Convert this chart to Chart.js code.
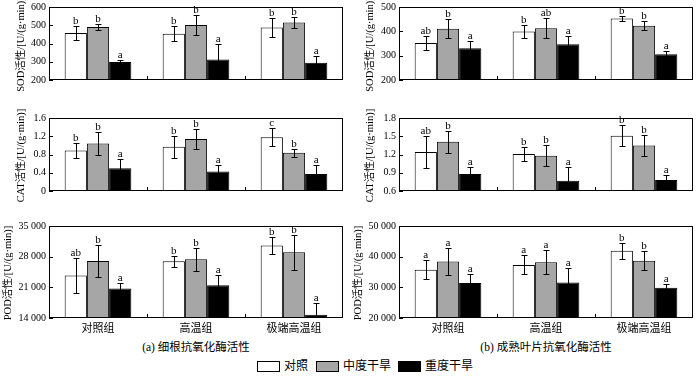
<!DOCTYPE html>
<html>
<head>
<meta charset="utf-8">
<script src="https://cdn.jsdelivr.net/npm/chart.js@4.4.0/dist/chart.umd.min.js"></script>
<style>
  body { margin: 0; width: 700px; height: 376px; position: relative; overflow: hidden; background: #fff;
         font-family: "Liberation Serif", "Noto Sans CJK SC", serif; color: #000; }
  canvas { position: absolute; }
  .cap { position: absolute; top: 338px; font-size: 11.5px; text-align: center; white-space: nowrap; }
  .legend { position: absolute; top: 359px; left: 0; width: 700px; font-size: 12px; }
  .legend span { position: absolute; top: 0; line-height: 14px; white-space: nowrap; }
  .legend i { position: absolute; top: 2px; width: 21px; height: 9px; border: 1px solid #000; }
</style>
</head>
<body>
<div class="cap" style="left:49px;width:294px">(a) 细根抗氧化酶活性</div>
<div class="cap" style="left:399px;width:294px">(b) 成熟叶片抗氧化酶活性</div>
<div class="legend">
  <i style="left:257px;background:#fff"></i><span style="left:284px">对照</span>
  <i style="left:316px;background:#a6a6a6"></i><span style="left:343px">中度干旱</span>
  <i style="left:398px;background:#000"></i><span style="left:425px">重度干旱</span>
</div>
<script>
// Categories and series
const categories = ['对照组', '高温组', '极端高温组'];
const seriesNames = ['对照', '中度干旱', '重度干旱'];

// (a) fine roots -- rows are series (对照, 中度干旱, 重度干旱), columns are groups
const sodRootMean = [[458, 454, 487], [491, 501, 515], [298, 312, 295]];
const sodRootErr = [[37, 40, 53], [18, 56, 28], [10, 84, 37]];
const sodRootSig = [['b', 'b', 'b'], ['b', 'b', 'b'], ['a', 'a', 'a']];
const sodRootTicks = [200, 300, 400, 500, 600];

const catRootMean = [[0.89, 0.97, 1.18], [1.04, 1.14, 0.84], [0.50, 0.43, 0.37]];
const catRootErr = [[0.17, 0.24, 0.20], [0.25, 0.21, 0.09], [0.20, 0.15, 0.21]];
const catRootSig = [['b', 'b', 'c'], ['b', 'b', 'b'], ['a', 'a', 'a']];
const catRootTicks = [0, 0.4, 0.8, 1.2, 1.6];

const podRootMean = [[23700, 26950, 30550], [27000, 27400, 29000], [20750, 21500, 14750]];
const podRootErr = [[3900, 1300, 1900], [3600, 2650, 4000], [1300, 2400, 2600]];
const podRootSig = [['ab', 'b', 'b'], ['b', 'b', 'b'], ['a', 'a', 'a']];
const podRootTicks = [14000, 21000, 28000, 35000];

// (b) mature leaves
const sodLeafMean = [[352, 399, 453], [411, 413, 423], [330, 347, 306]];
const sodLeafErr = [[28, 25, 11], [40, 42, 18], [32, 32, 14]];
const sodLeafSig = [['ab', 'b', 'b'], ['b', 'ab', 'b'], ['a', 'a', 'a']];
const sodLeafTicks = [200, 300, 400, 500];

const catLeafMean = [[1.24, 1.21, 1.51], [1.41, 1.18, 1.35], [0.88, 0.77, 0.78]];
const catLeafErr = [[0.26, 0.11, 0.17], [0.18, 0.17, 0.17], [0.11, 0.22, 0.08]];
const catLeafSig = [['ab', 'b', 'b'], ['b', 'b', 'b'], ['a', 'a', 'a']];
const catLeafTicks = [0.6, 0.9, 1.2, 1.5, 1.8];

const podLeafMean = [[35700, 37300, 41900], [38400, 38200, 38700], [31400, 31600, 29900]];
const podLeafErr = [[3100, 3100, 2600], [4500, 4000, 3000], [3000, 4700, 1100]];
const podLeafSig = [['a', 'a', 'b'], ['a', 'a', 'b'], ['a', 'a', 'a']];
const podLeafTicks = [20000, 30000, 40000, 50000];

const seriesColors = ['#ffffff', '#a6a6a6', '#000000'];
const FONT = '"Liberation Serif", "Noto Sans CJK SC", serif';

const fmtPlain = v => String(v);
const fmtCat = v => (v === 0 ? '0' : v.toFixed(1));
const fmtThousand = v => Math.floor(v / 1000) + ' ' + String(v % 1000).padStart(3, '0');

// error bars, letters, frame, inward ticks and the rotated y title
const decor = {
    id: 'decor',
    afterDatasetsDraw(chart, args, opts) {
        const { ctx, chartArea: a, scales: { x, y } } = chart;
        ctx.save();
        ctx.strokeStyle = '#000';
        ctx.lineWidth = 1;

        ctx.save();
        ctx.beginPath();
        ctx.rect(a.left, a.top, a.right - a.left, a.bottom - a.top);
        ctx.clip();
        chart.data.datasets.forEach((ds, i) => {
            chart.getDatasetMeta(i).data.forEach((bar, j) => {
                const hi = Math.round(y.getPixelForValue(ds.data[j] + ds.err[j])) + 0.5;
                const lo = Math.round(y.getPixelForValue(ds.data[j] - ds.err[j])) + 0.5;
                const bx = Math.round(bar.x) + 0.5;
                ctx.beginPath();
                ctx.moveTo(bx, hi); ctx.lineTo(bx, lo);
                ctx.moveTo(bx - 3, hi); ctx.lineTo(bx + 3, hi);
                ctx.moveTo(bx - 3, lo); ctx.lineTo(bx + 3, lo);
                ctx.stroke();
            });
        });
        ctx.restore();

        ctx.fillStyle = '#000';
        ctx.font = '11px ' + FONT;
        ctx.textAlign = 'center';
        ctx.textBaseline = 'alphabetic';
        chart.data.datasets.forEach((ds, i) => {
            chart.getDatasetMeta(i).data.forEach((bar, j) => {
                const hi = y.getPixelForValue(ds.data[j] + ds.err[j]);
                ctx.fillText(ds.sig[j], bar.x, hi - 2);
            });
        });

        ctx.strokeRect(a.left + 0.5, a.top + 0.5, a.right - a.left - 1, a.bottom - a.top - 1);
        ctx.beginPath();
        y.ticks.forEach(t => {
            const py = Math.round(y.getPixelForValue(t.value)) + 0.5;
            ctx.moveTo(a.left, py); ctx.lineTo(a.left + 4, py);
        });
        for (let k = 1; k < categories.length; k++) {
            const px = Math.round((x.getPixelForValue(k - 1) + x.getPixelForValue(k)) / 2) + 0.5;
            ctx.moveTo(px, a.bottom); ctx.lineTo(px, a.bottom - 4);
        }
        ctx.stroke();

        ctx.font = '10.5px ' + FONT;
        ctx.translate(opts.titleX, (a.top + a.bottom) / 2 + 1);
        ctx.rotate(-Math.PI / 2);
        ctx.textBaseline = 'middle';
        ctx.fillText(opts.title, 0, 0);
        ctx.restore();
    }
};

function makeChart(p) {
    const canvas = document.createElement('canvas');
    canvas.width = p.w;
    canvas.height = p.h;
    canvas.style.left = p.left + 'px';
    canvas.style.top = p.top + 'px';
    canvas.style.width = p.w + 'px';
    canvas.style.height = p.h + 'px';
    document.body.appendChild(canvas);

    new Chart(canvas, {
        type: 'bar',
        data: {
            labels: categories,
            datasets: p.mean.map((m, i) => ({
                label: seriesNames[i],
                data: m,
                err: p.err[i],
                sig: p.sig[i],
                backgroundColor: seriesColors[i],
                borderColor: '#000',
                borderWidth: 1,
                categoryPercentage: 0.68,
                barPercentage: 1
            }))
        },
        options: {
            responsive: false,
            animation: false,
            devicePixelRatio: 1,
            layout: { padding: { top: 8, right: p.padRight, bottom: p.last ? 0 : 8, left: 0 } },
            plugins: {
                legend: { display: false },
                tooltip: { enabled: false },
                decor: { title: p.title, titleX: p.titleX }
            },
            scales: {
                x: {
                    display: p.last,
                    grid: { display: false, drawTicks: false },
                    border: { display: false },
                    ticks: { color: '#000', font: { size: 11, family: FONT }, padding: 5, maxRotation: 0 },
                    afterFit: s => { s.height = 20; }
                },
                y: {
                    min: p.ticks[0],
                    max: p.ticks[p.ticks.length - 1],
                    grid: { display: false, drawTicks: false },
                    border: { display: false },
                    afterBuildTicks: s => { s.ticks = p.ticks.map(v => ({ value: v })); },
                    ticks: { color: '#000', font: { size: 10, family: FONT }, padding: 3, callback: v => p.fmt(v) },
                    afterFit: s => { s.width = 49; }
                }
            }
        },
        plugins: [decor]
    });
}

const panels = [
    { title: 'SOD活性/[U/(g·min)]', mean: sodRootMean, err: sodRootErr, sig: sodRootSig, ticks: sodRootTicks, fmt: fmtPlain, titleX: 21, left: 0, top: -2, w: 346, h: 110, padRight: 3, last: false },
    { title: 'CAT活性/[U/(g·min)]', mean: catRootMean, err: catRootErr, sig: catRootSig, ticks: catRootTicks, fmt: fmtCat, titleX: 21, left: 0, top: 109, w: 346, h: 110, padRight: 3, last: false },
    { title: 'POD活性/[U/(g·min)]', mean: podRootMean, err: podRootErr, sig: podRootSig, ticks: podRootTicks, fmt: fmtThousand, titleX: 8, left: 0, top: 217, w: 346, h: 121, padRight: 3, last: true },
    { title: 'SOD活性/[U/(g·min)]', mean: sodLeafMean, err: sodLeafErr, sig: sodLeafSig, ticks: sodLeafTicks, fmt: fmtPlain, titleX: 20, left: 350, top: -2, w: 350, h: 110, padRight: 7, last: false },
    { title: 'CAT活性/[U/(g·min)]', mean: catLeafMean, err: catLeafErr, sig: catLeafSig, ticks: catLeafTicks, fmt: fmtCat, titleX: 20, left: 350, top: 109, w: 350, h: 110, padRight: 7, last: false },
    { title: 'POD活性/[U/(g·min)]', mean: podLeafMean, err: podLeafErr, sig: podLeafSig, ticks: podLeafTicks, fmt: fmtThousand, titleX: 8, left: 350, top: 217, w: 350, h: 121, padRight: 7, last: true }
];

panels.forEach(makeChart);
</script>
</body>
</html>
